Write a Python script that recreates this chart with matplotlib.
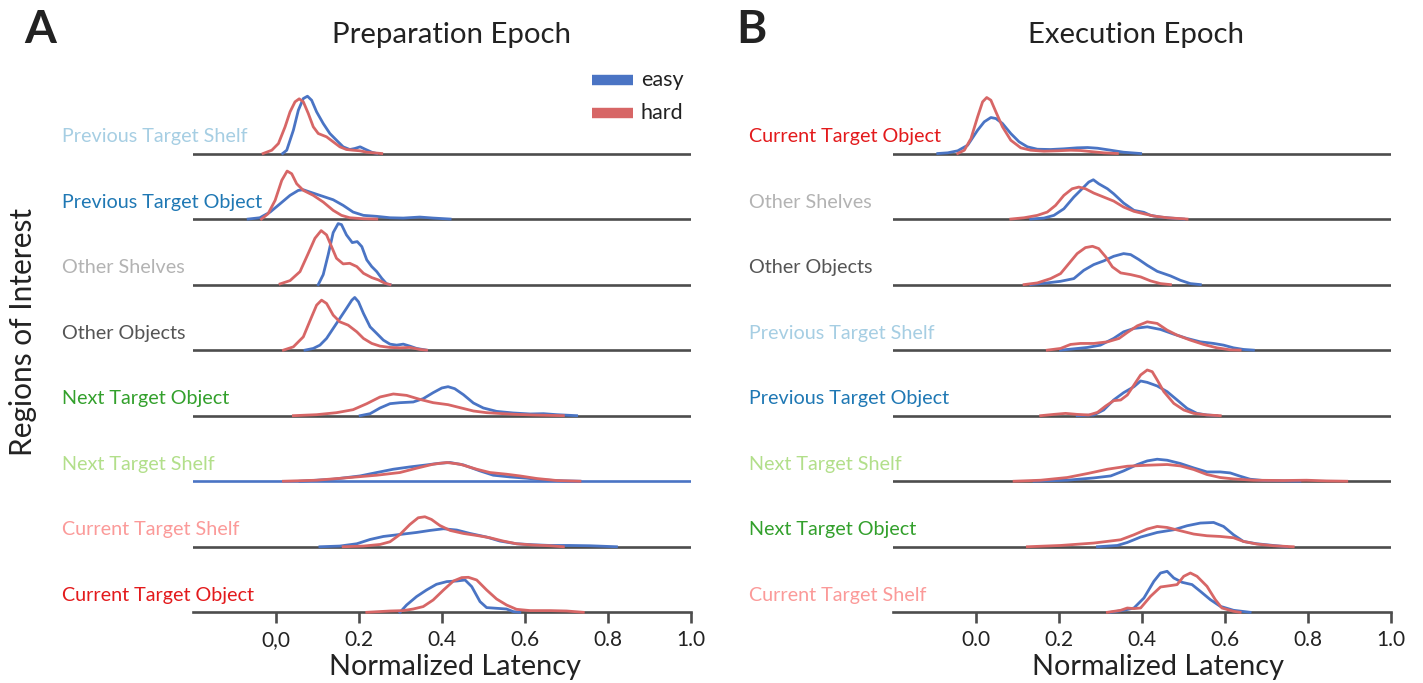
import matplotlib
matplotlib.use("Agg")
import matplotlib.pyplot as plt
from matplotlib.lines import Line2D
from matplotlib import transforms

plt.rcParams['font.family'] = ['Lato', 'DejaVu Sans']

# ---------------- data (x = normalized latency, y = relative density) ----------------
prep_rois = ["Previous Target Shelf", "Previous Target Object", "Other Shelves", "Other Objects",
             "Next Target Object", "Next Target Shelf", "Current Target Shelf", "Current Target Object"]
exec_rois = ["Current Target Object", "Other Shelves", "Other Objects", "Previous Target Shelf",
             "Previous Target Object", "Next Target Shelf", "Next Target Object", "Current Target Shelf"]
roi_colors = {
    "Previous Target Shelf": "#a6cee3", "Previous Target Object": "#1f78b4",
    "Other Shelves": "#b3b3b3", "Other Objects": "#555555",
    "Next Target Object": "#33a02c", "Next Target Shelf": "#b2df8a",
    "Current Target Shelf": "#fb9a99", "Current Target Object": "#e31a1c",
}
xticks = [0.0, 0.2, 0.4, 0.6, 0.8, 1.0]
prep_xticklabels = ["0,0", "0.2", "0.4", "0.6", "0.8", "1.0"]
exec_xticklabels = ["0.0", "0.2", "0.4", "0.6", "0.8", "1.0"]

# Preparation epoch
p_pts_easy_x = [0.016, 0.026, 0.042, 0.054, 0.066, 0.076, 0.086, 0.098, 0.114, 0.130, 0.146, 0.162, 0.178, 0.19, 0.203, 0.215, 0.231, 0.243]
p_pts_easy_y = [0, 3.3, 23.3, 43.3, 55, 57.3, 53.3, 41.7, 30, 20, 13.3, 6.7, 4, 5, 6.7, 4.3, 1.3, 0]
p_pts_hard_x = [-0.031, -0.010, 0.006, 0.022, 0.034, 0.046, 0.056, 0.066, 0.078, 0.090, 0.102, 0.122, 0.138, 0.154, 0.170, 0.186, 0.203, 0.219, 0.255]
p_pts_hard_y = [0, 3.3, 10, 26.7, 41.7, 51.7, 54.7, 51.7, 40, 26.7, 20, 16.7, 11.7, 6.7, 4, 3.3, 2.7, 1.3, 0]

p_pto_easy_x = [-0.067, -0.039, -0.014, 0.010, 0.034, 0.054, 0.066, 0.082, 0.106, 0.138, 0.162, 0.186, 0.211, 0.243, 0.275, 0.307, 0.347, 0.379, 0.420]
p_pto_easy_y = [0, 1.3, 7, 15.3, 23.7, 28.7, 29.3, 27, 23.7, 19.3, 13.7, 7, 3.7, 2.7, 1.3, 1, 2, 1, 0]
p_pto_hard_x = [-0.035, -0.019, -0.002, 0.014, 0.027, 0.038, 0.050, 0.066, 0.090, 0.114, 0.138, 0.158, 0.178, 0.211, 0.243]
p_pto_hard_y = [0, 5.3, 18.7, 38.7, 48, 45.3, 35.3, 28.7, 23.7, 17, 8.7, 3.7, 1.3, 0.3, 0]

p_os_easy_x = [0.102, 0.114, 0.126, 0.138, 0.150, 0.158, 0.170, 0.184, 0.196, 0.207, 0.219, 0.231, 0.243, 0.255, 0.267, 0.275]
p_os_easy_y = [0, 10, 30, 52, 61, 60, 49.7, 42, 43, 38, 24.7, 18, 13, 6.3, 0.7, 0]
p_os_hard_x = [0.010, 0.034, 0.058, 0.078, 0.094, 0.109, 0.122, 0.134, 0.146, 0.162, 0.178, 0.195, 0.211, 0.231, 0.247, 0.263, 0.275]
p_os_hard_y = [0.7, 4, 13, 31.3, 46.3, 54, 49.7, 38, 26.3, 20.7, 21.3, 18, 11.3, 7, 4.7, 1.3, 0]

p_oo_easy_x = [0.070, 0.090, 0.106, 0.122, 0.138, 0.154, 0.170, 0.183, 0.190, 0.199, 0.211, 0.227, 0.243, 0.259, 0.275, 0.291, 0.307, 0.323, 0.339, 0.363]
p_oo_easy_y = [0, 1.7, 5, 11.7, 21.7, 31.7, 41.7, 50, 52.7, 48.3, 36.7, 23.3, 16.7, 10, 6, 5, 6, 4, 1.7, 0]
p_oo_hard_x = [0.018, 0.042, 0.066, 0.086, 0.098, 0.110, 0.122, 0.138, 0.154, 0.174, 0.195, 0.211, 0.231, 0.251, 0.275, 0.299, 0.323, 0.347, 0.363]
p_oo_hard_y = [0, 3.3, 13.3, 33.3, 45, 50, 46.7, 35, 28.3, 25, 18.3, 11.7, 6.7, 4, 2.7, 2.3, 2.7, 0.7, 0]

p_nto_easy_x = [0.203, 0.227, 0.251, 0.275, 0.299, 0.331, 0.355, 0.379, 0.400, 0.415, 0.431, 0.452, 0.476, 0.500, 0.532, 0.572, 0.613, 0.645, 0.677, 0.725]
p_nto_easy_y = [0, 2, 7.7, 12, 13, 13.7, 17, 23, 27.7, 29, 27, 21, 12.7, 7.7, 4.3, 2.7, 1.7, 2, 1, 0]
p_nto_hard_x = [0.042, 0.098, 0.146, 0.186, 0.219, 0.251, 0.283, 0.315, 0.347, 0.379, 0.415, 0.444, 0.476, 0.508, 0.548, 0.580, 0.620, 0.661, 0.693]
p_nto_hard_y = [0, 1, 3, 6, 12, 18.7, 21.7, 20.3, 16.3, 13, 11, 8, 4.7, 3, 2, 1.3, 0.7, 0.3, 0]

p_nts_easy_x = [0.058, 0.138, 0.203, 0.243, 0.283, 0.323, 0.363, 0.395, 0.420, 0.452, 0.492, 0.524, 0.564, 0.605, 0.645, 0.693, 0.733]
p_nts_easy_y = [0, 2, 5.3, 8.7, 12, 14.3, 16.3, 18, 18.7, 16.3, 10.3, 6, 4.3, 3, 1.3, 0.3, 0]
p_nts_hard_x = [0.018, 0.098, 0.178, 0.243, 0.299, 0.339, 0.379, 0.412, 0.444, 0.484, 0.516, 0.556, 0.588, 0.629, 0.677, 0.733]
p_nts_hard_y = [0, 1, 3.7, 6, 8.7, 13, 17, 18.7, 17, 12, 8.7, 7, 5.3, 2.7, 0.7, 0]

p_cts_easy_x = [0.106, 0.154, 0.195, 0.227, 0.259, 0.299, 0.339, 0.371, 0.404, 0.436, 0.468, 0.508, 0.540, 0.580, 0.620, 0.661, 0.709, 0.757, 0.821]
p_cts_easy_y = [0, 0.7, 3, 7.3, 10.3, 12.3, 14.3, 16.3, 18, 16.7, 13.3, 9.7, 5.7, 3, 2, 1.3, 1.3, 1, 0]
p_cts_hard_x = [0.162, 0.211, 0.251, 0.275, 0.299, 0.323, 0.343, 0.359, 0.375, 0.395, 0.420, 0.452, 0.484, 0.516, 0.548, 0.580, 0.620, 0.661, 0.693]
p_cts_hard_y = [0, 0.7, 2.3, 5, 12.3, 22.3, 29, 30, 27.3, 21.3, 16.3, 13.3, 11.3, 9, 5.7, 3, 1.7, 1, 0]

p_cto_easy_x = [0.299, 0.315, 0.339, 0.363, 0.387, 0.412, 0.436, 0.456, 0.472, 0.492, 0.508, 0.532, 0.556, 0.572, 0.588]
p_cto_easy_y = [0, 7.3, 15.7, 22.3, 28, 30.7, 31.3, 32.3, 25.7, 10.7, 4.7, 4, 3.3, 0.7, 0]
p_cto_hard_x = [0.219, 0.275, 0.307, 0.331, 0.355, 0.379, 0.404, 0.428, 0.448, 0.464, 0.484, 0.508, 0.532, 0.556, 0.580, 0.613, 0.661, 0.701, 0.741]
p_cto_hard_y = [0, 1.3, 1.7, 3.3, 5.7, 12.3, 22.3, 31.3, 34.7, 35, 32.3, 22.3, 13.3, 7.3, 3, 1.7, 1.7, 1.3, 0]

# Execution epoch
e_cto_easy_x = [-0.092, -0.068, -0.044, -0.020, 0.004, 0.020, 0.036, 0.048, 0.064, 0.084, 0.104, 0.124, 0.148, 0.180, 0.212, 0.244, 0.269, 0.293, 0.325, 0.356, 0.397]
e_cto_easy_y = [0, 0.7, 2.7, 8.3, 23.3, 31.7, 36, 35, 30, 20, 11.7, 6.7, 4.3, 4, 4.7, 5.7, 6, 5.3, 3.3, 1.3, 0]
e_cto_hard_x = [-0.044, -0.028, -0.012, 0.004, 0.016, 0.026, 0.036, 0.048, 0.064, 0.084, 0.108, 0.132, 0.164, 0.196, 0.228, 0.252, 0.276, 0.308, 0.341]
e_cto_hard_y = [0, 3.3, 15, 36.7, 51.7, 56, 53.3, 41.7, 26.7, 13.3, 5.7, 3.3, 2.3, 2.7, 3.3, 3, 2, 0.7, 0]

e_os_easy_x = [0.132, 0.164, 0.188, 0.212, 0.236, 0.256, 0.272, 0.283, 0.296, 0.317, 0.332, 0.356, 0.381, 0.405, 0.421, 0.445, 0.469, 0.501]
e_os_easy_y = [0, 1, 3.7, 10.3, 22, 30.3, 37, 39.3, 35.3, 30.3, 25.3, 16, 8.7, 6.7, 3.7, 2, 1, 0]
e_os_hard_x = [0.084, 0.116, 0.148, 0.172, 0.192, 0.212, 0.232, 0.248, 0.264, 0.284, 0.308, 0.332, 0.356, 0.381, 0.405, 0.429, 0.461, 0.509]
e_os_hard_y = [0, 1.3, 3.7, 7, 13.7, 23.7, 30.3, 32, 30.3, 26, 22, 18, 12, 7.7, 5.3, 3, 1.3, 0]

e_oo_easy_x = [0.132, 0.172, 0.204, 0.236, 0.260, 0.284, 0.308, 0.332, 0.356, 0.373, 0.393, 0.413, 0.437, 0.469, 0.493, 0.517, 0.541]
e_oo_easy_y = [0, 1.7, 3.3, 6, 14.3, 20, 23.7, 28.3, 31, 30, 25, 19.3, 13.3, 8.7, 4.3, 1, 0]
e_oo_hard_x = [0.116, 0.148, 0.180, 0.204, 0.224, 0.244, 0.264, 0.281, 0.296, 0.313, 0.329, 0.349, 0.373, 0.397, 0.421, 0.445, 0.469]
e_oo_hard_y = [0, 1.7, 6, 11, 21, 31, 37, 38.3, 36, 27.7, 17.7, 11.7, 10, 7.7, 3.7, 1, 0]

e_pts_easy_x = [0.204, 0.236, 0.269, 0.300, 0.332, 0.356, 0.381, 0.413, 0.445, 0.477, 0.509, 0.541, 0.573, 0.597, 0.621, 0.645, 0.669]
e_pts_easy_y = [0, 1.3, 2.7, 5, 11.7, 18.3, 21.7, 23.3, 20.7, 16, 11.7, 8.3, 6.7, 5, 2.3, 0.7, 0]
e_pts_hard_x = [0.172, 0.204, 0.228, 0.252, 0.284, 0.317, 0.345, 0.365, 0.389, 0.413, 0.437, 0.461, 0.485, 0.517, 0.549, 0.581, 0.613, 0.637]
e_pts_hard_y = [0, 1.7, 5.7, 6.7, 6.7, 8.3, 11.7, 17.7, 24.3, 28.3, 26.7, 20, 15, 10, 5.7, 2.3, 0.3, 0]

e_pto_easy_x = [0.244, 0.284, 0.308, 0.332, 0.356, 0.381, 0.397, 0.413, 0.437, 0.461, 0.485, 0.509, 0.533, 0.557, 0.581]
e_pto_easy_y = [0, 0.7, 5.7, 15.7, 23, 29, 34.7, 33.3, 29.7, 24, 15.7, 7.3, 2.3, 0.7, 0]
e_pto_hard_x = [0.156, 0.188, 0.216, 0.244, 0.272, 0.293, 0.313, 0.332, 0.349, 0.365, 0.381, 0.397, 0.413, 0.425, 0.437, 0.453, 0.477, 0.501, 0.525, 0.557, 0.589]
e_pto_hard_y = [0, 1.3, 2.3, 1.3, 0.7, 3.3, 9.7, 15, 15.7, 20.7, 30.7, 40.7, 45.7, 44, 35.7, 24, 12.3, 5.7, 2.3, 0.7, 0]

e_nts_easy_x = [0.140, 0.220, 0.284, 0.325, 0.356, 0.389, 0.413, 0.437, 0.461, 0.493, 0.525, 0.557, 0.589, 0.613, 0.637, 0.661, 0.693, 0.741, 0.781]
e_nts_easy_y = [0, 1, 3.3, 5.3, 10.3, 16.7, 20.3, 22, 21, 17.7, 13.3, 9.3, 9.3, 8.3, 5, 2, 0.7, 0.3, 0]
e_nts_hard_x = [0.092, 0.156, 0.220, 0.269, 0.317, 0.365, 0.413, 0.461, 0.493, 0.525, 0.557, 0.589, 0.621, 0.669, 0.741, 0.797, 0.845, 0.894]
e_nts_hard_y = [0, 1, 3.7, 7.7, 12, 15, 16, 16.7, 15.3, 11.7, 6.7, 3.7, 2.3, 1, 0.7, 1, 0.3, 0]

e_nto_easy_x = [0.293, 0.341, 0.365, 0.397, 0.437, 0.477, 0.509, 0.541, 0.573, 0.597, 0.621, 0.645, 0.677, 0.717, 0.749]
e_nto_easy_y = [0, 1.3, 4.3, 9.7, 14.3, 17, 21, 23.7, 24.3, 20.3, 12, 5.3, 3, 1.3, 0]
e_nto_hard_x = [0.124, 0.204, 0.284, 0.349, 0.381, 0.413, 0.437, 0.461, 0.493, 0.525, 0.557, 0.589, 0.621, 0.645, 0.677, 0.717, 0.765]
e_nto_hard_y = [0, 1.3, 3.7, 7, 12, 17.7, 20.3, 19.3, 16, 12.7, 11, 10.3, 9, 5.3, 2.7, 1, 0]

e_cts_easy_x = [0.325, 0.356, 0.381, 0.405, 0.429, 0.445, 0.461, 0.477, 0.497, 0.521, 0.541, 0.565, 0.589, 0.621, 0.661]
e_cts_easy_y = [0, 2, 4.3, 14.3, 31, 39.3, 41, 34.3, 30, 27.7, 21, 12.7, 6, 2, 0]
e_cts_hard_x = [0.317, 0.349, 0.365, 0.381, 0.397, 0.421, 0.445, 0.469, 0.485, 0.501, 0.517, 0.533, 0.557, 0.577, 0.593, 0.621, 0.637]
e_cts_hard_y = [0, 2, 4.3, 3.7, 4.3, 16, 25.3, 26.7, 27.7, 36, 39.3, 36, 26, 12.7, 4.3, 1, 0]

prep_curves = {
    "Previous Target Shelf": ((p_pts_easy_x, p_pts_easy_y), (p_pts_hard_x, p_pts_hard_y)),
    "Previous Target Object": ((p_pto_easy_x, p_pto_easy_y), (p_pto_hard_x, p_pto_hard_y)),
    "Other Shelves": ((p_os_easy_x, p_os_easy_y), (p_os_hard_x, p_os_hard_y)),
    "Other Objects": ((p_oo_easy_x, p_oo_easy_y), (p_oo_hard_x, p_oo_hard_y)),
    "Next Target Object": ((p_nto_easy_x, p_nto_easy_y), (p_nto_hard_x, p_nto_hard_y)),
    "Next Target Shelf": ((p_nts_easy_x, p_nts_easy_y), (p_nts_hard_x, p_nts_hard_y)),
    "Current Target Shelf": ((p_cts_easy_x, p_cts_easy_y), (p_cts_hard_x, p_cts_hard_y)),
    "Current Target Object": ((p_cto_easy_x, p_cto_easy_y), (p_cto_hard_x, p_cto_hard_y)),
}
exec_curves = {
    "Current Target Object": ((e_cto_easy_x, e_cto_easy_y), (e_cto_hard_x, e_cto_hard_y)),
    "Other Shelves": ((e_os_easy_x, e_os_easy_y), (e_os_hard_x, e_os_hard_y)),
    "Other Objects": ((e_oo_easy_x, e_oo_easy_y), (e_oo_hard_x, e_oo_hard_y)),
    "Previous Target Shelf": ((e_pts_easy_x, e_pts_easy_y), (e_pts_hard_x, e_pts_hard_y)),
    "Previous Target Object": ((e_pto_easy_x, e_pto_easy_y), (e_pto_hard_x, e_pto_hard_y)),
    "Next Target Shelf": ((e_nts_easy_x, e_nts_easy_y), (e_nts_hard_x, e_nts_hard_y)),
    "Next Target Object": ((e_nto_easy_x, e_nto_easy_y), (e_nto_hard_x, e_nto_hard_y)),
    "Current Target Shelf": ((e_cts_easy_x, e_cts_easy_y), (e_cts_hard_x, e_cts_hard_y)),
}

EASY = "#4a74c4"
HARD = "#d76666"
AXIS_GRAY = "#4d4d4d"
TEXT = "#222222"

W, H = 1423, 683
fig = plt.figure(figsize=(W / 100, H / 100), dpi=100)

ROW = 65.54
NROWS = 8
bottom_px = 612.3
axes_h = ROW * NROWS


def draw_panel(left_px, right_px, rois, curves, ticklabels, label_x_px, xlabel_center_px,
               blue_base_roi=None):
    ax = fig.add_axes([left_px / W, (H - bottom_px) / H, (right_px - left_px) / W, axes_h / H])
    ax.set_xlim(-0.2, 1.0)
    ax.set_ylim(0, axes_h)
    for s in ("left", "top", "right"):
        ax.spines[s].set_visible(False)
    ax.spines["bottom"].set_color(AXIS_GRAY)
    ax.spines["bottom"].set_linewidth(1.9)
    ax.set_yticks([])
    ax.set_xticks(xticks)
    ax.set_xticklabels(ticklabels)
    ax.tick_params(axis="x", length=8, width=1.9, color=AXIS_GRAY, labelsize=15,
                   labelcolor=TEXT, pad=5)
    ax.set_xlabel("Normalized Latency", fontsize=20.8, color=TEXT)
    ax.xaxis.set_label_coords((xlabel_center_px - left_px) / (right_px - left_px),
                              -(667 - bottom_px) / axes_h)
    ax.xaxis.label.set_va("center")
    trans = transforms.blended_transform_factory(fig.transFigure, ax.transData)
    for i, roi in enumerate(rois):
        base = (NROWS - 1 - i) * ROW
        bcol = EASY if roi == blue_base_roi else AXIS_GRAY
        if i < NROWS - 1 or roi == blue_base_roi:
            ax.axhline(base, color=bcol, lw=1.9, zorder=1)
        (ex, ey), (hx, hy) = curves[roi]
        ax.plot(ex, [base + v for v in ey], color=EASY, lw=2.0, zorder=3,
                solid_joinstyle="round", clip_on=False)
        ax.plot(hx, [base + v for v in hy], color=HARD, lw=2.0, zorder=3,
                solid_joinstyle="round", clip_on=False)
        ax.text(label_x_px / W, base + 17, roi, transform=trans, color=roi_colors[roi],
                fontsize=14.2, ha="left", va="center")
    return ax


axA = draw_panel(193, 690.7, prep_rois, prep_curves, prep_xticklabels, 62, 455,
                 blue_base_roi="Next Target Shelf")
axB = draw_panel(893, 1390.7, exec_rois, exec_curves, exec_xticklabels, 749, 1158)

# titles and panel letters
fig.text(452 / W, 1 - 35 / H, "Preparation Epoch", fontsize=21.2, ha="center", va="center", color=TEXT)
fig.text(1135.5 / W, 1 - 35 / H, "Execution Epoch", fontsize=21.2, ha="center", va="center", color=TEXT)
fig.text(24 / W, 1 - 30 / H, "A", fontsize=33, fontweight="bold", ha="left", va="center", color=TEXT)
fig.text(736 / W, 1 - 30 / H, "B", fontsize=33, fontweight="bold", ha="left", va="center", color=TEXT)
fig.text(23 / W, 1 - 332 / H, "Regions of Interest", fontsize=21.5, rotation=90,
         ha="center", va="center", color=TEXT)

# legend
for k, (lab, col) in enumerate([("easy", EASY), ("hard", HARD)]):
    yy = 1 - (80 + 33 * k) / H
    fig.add_artist(Line2D([592 / W, 633 / W], [yy, yy], color=col, lw=7.5,
                          solid_capstyle="butt", transform=fig.transFigure))
    fig.text(641 / W, yy, lab, fontsize=15.5, ha="left", va="center", color=TEXT)

fig.savefig("out.png", dpi=100)
